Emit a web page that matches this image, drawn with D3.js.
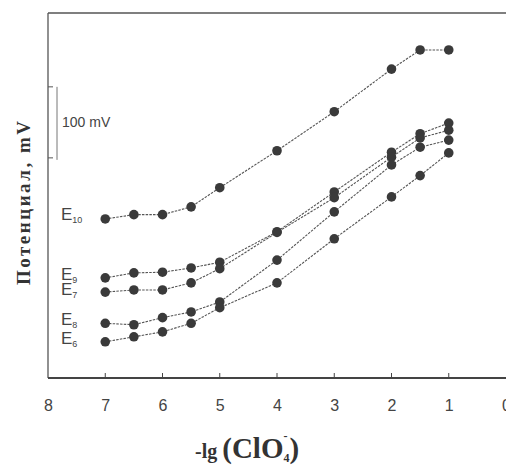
<!DOCTYPE html>
<html><head><meta charset="utf-8">
<script src="https://cdn.jsdelivr.net/npm/d3@7"></script>
<style>body{margin:0;background:#fff}</style>
</head><body>
<svg id="c" width="506" height="465"></svg>
<script>
const xs = [7, 6.5, 6, 5.5, 5, 4, 3, 2, 1.5, 1];
const E10 = [224, 230, 230, 241, 268, 320, 375, 435, 462, 462];
const E9  = [141, 148, 149, 155, 163, 206, 262, 318, 344, 359];
const E7  = [121, 124, 124, 134, 154, 205, 254, 311, 338, 349];
const E8  = [77, 75, 85, 93, 107, 166, 234, 300, 325, 335];
const E6  = [51, 58, 65, 77, 99, 134, 196, 255, 285, 317];
const seriesNames = ["10", "9", "7", "8", "6"];
const seriesVals = [E10, E9, E7, E8, E6];
const labelY = [228, 143, 122, 80, 54];
const xTicks = [8, 7, 6, 5, 4, 3, 2, 1, 0];
const yTicks = [310, 410];

const svg = d3.select("#c");
const L = 48, R = 506, T = 13, B = 378;
const x = d3.scaleLinear().domain([8, 0]).range([L, R]);
const y = d3.scaleLinear().domain([0, 514]).range([B, T]);
const ink = "#3a3a3a";

// frame
svg.append("line").attr("x1", L).attr("x2", L).attr("y1", T).attr("y2", B).attr("stroke", "#555").attr("stroke-width", 1.3);
svg.append("line").attr("x1", L).attr("x2", R).attr("y1", T).attr("y2", T).attr("stroke", "#555").attr("stroke-width", 1.5);
svg.append("line").attr("x1", L).attr("x2", R).attr("y1", B).attr("y2", B).attr("stroke", "#444").attr("stroke-width", 1.8);

// bottom axis ticks and labels
const xAxis = d3.axisBottom(x).tickValues(xTicks).tickSize(0).tickPadding(22).tickFormat(d3.format("d"));
const gx = svg.append("g").attr("transform", `translate(0,${B})`).call(xAxis);
gx.select(".domain").remove();
gx.selectAll("text").attr("font-family", "Liberation Sans, Arial, sans-serif").attr("font-size", 16).attr("fill", "#444");
svg.selectAll(".xt").data(xTicks.filter(d => d > 0 && d < 8)).enter().append("line")
  .attr("x1", d => x(d)).attr("x2", d => x(d)).attr("y1", B).attr("y2", B - 5)
  .attr("stroke", "#444").attr("stroke-width", 1);

// left ticks
svg.selectAll(".yt").data(yTicks).enter().append("line")
  .attr("x1", L).attr("x2", L + 5).attr("y1", d => y(d)).attr("y2", d => y(d))
  .attr("stroke", "#555").attr("stroke-width", 1);

// scale bar
svg.append("line").attr("x1", 57).attr("x2", 57).attr("y1", y(yTicks[1])).attr("y2", y(yTicks[0]) + 2)
  .attr("stroke", "#777").attr("stroke-width", 1);
svg.append("text").attr("x", 62).attr("y", y((yTicks[0] + yTicks[1]) / 2) + 5)
  .attr("font-family", "Liberation Sans, Arial, sans-serif").attr("font-size", 14).attr("fill", "#444").text("100 mV");

// series
const line = d3.line().x(d => x(d[0])).y(d => y(d[1]));
seriesVals.forEach((vals, i) => {
  const pts = xs.map((xv, j) => [xv, vals[j]]);
  svg.append("path").attr("d", line(pts)).attr("fill", "none")
    .attr("stroke", "#555").attr("stroke-width", 1.1).attr("stroke-dasharray", "2.5,1.2");
  svg.selectAll(null).data(pts).enter().append("circle")
    .attr("cx", d => x(d[0])).attr("cy", d => y(d[1])).attr("r", 4.8).attr("fill", ink);
  const t = svg.append("text").attr("x", 61).attr("y", y(labelY[i]) + 4)
    .attr("font-family", "Liberation Sans, Arial, sans-serif").attr("font-size", 17).attr("fill", "#444");
  t.append("tspan").text("E");
  t.append("tspan").attr("font-size", 9).attr("dy", 3).text(seriesNames[i]);
});

// y title
svg.append("text").attr("transform", "translate(30,203) rotate(-90)").attr("text-anchor", "middle")
  .attr("font-family", "Liberation Serif, Times New Roman, serif").attr("font-weight", "bold")
  .attr("font-size", 19).attr("fill", "#333")
  .attr("textLength", 164).attr("lengthAdjust", "spacing").text("Потенциал, mV");

// x title
const xt = svg.append("text").attr("x", 195).attr("y", 458)
  .attr("font-family", "Liberation Serif, Times New Roman, serif").attr("font-weight", "bold").attr("fill", "#333");
xt.append("tspan").attr("font-size", 20).text("-lg ");
xt.append("tspan").attr("font-size", 29).text("(ClO");
xt.append("tspan").attr("font-size", 12).attr("dy", 4).text("4");
xt.append("tspan").attr("font-size", 12).attr("dy", -22).attr("dx", -6).text("-");
xt.append("tspan").attr("font-size", 29).attr("dy", 18).attr("dx", 2).text(")");
</script>
</body></html>
